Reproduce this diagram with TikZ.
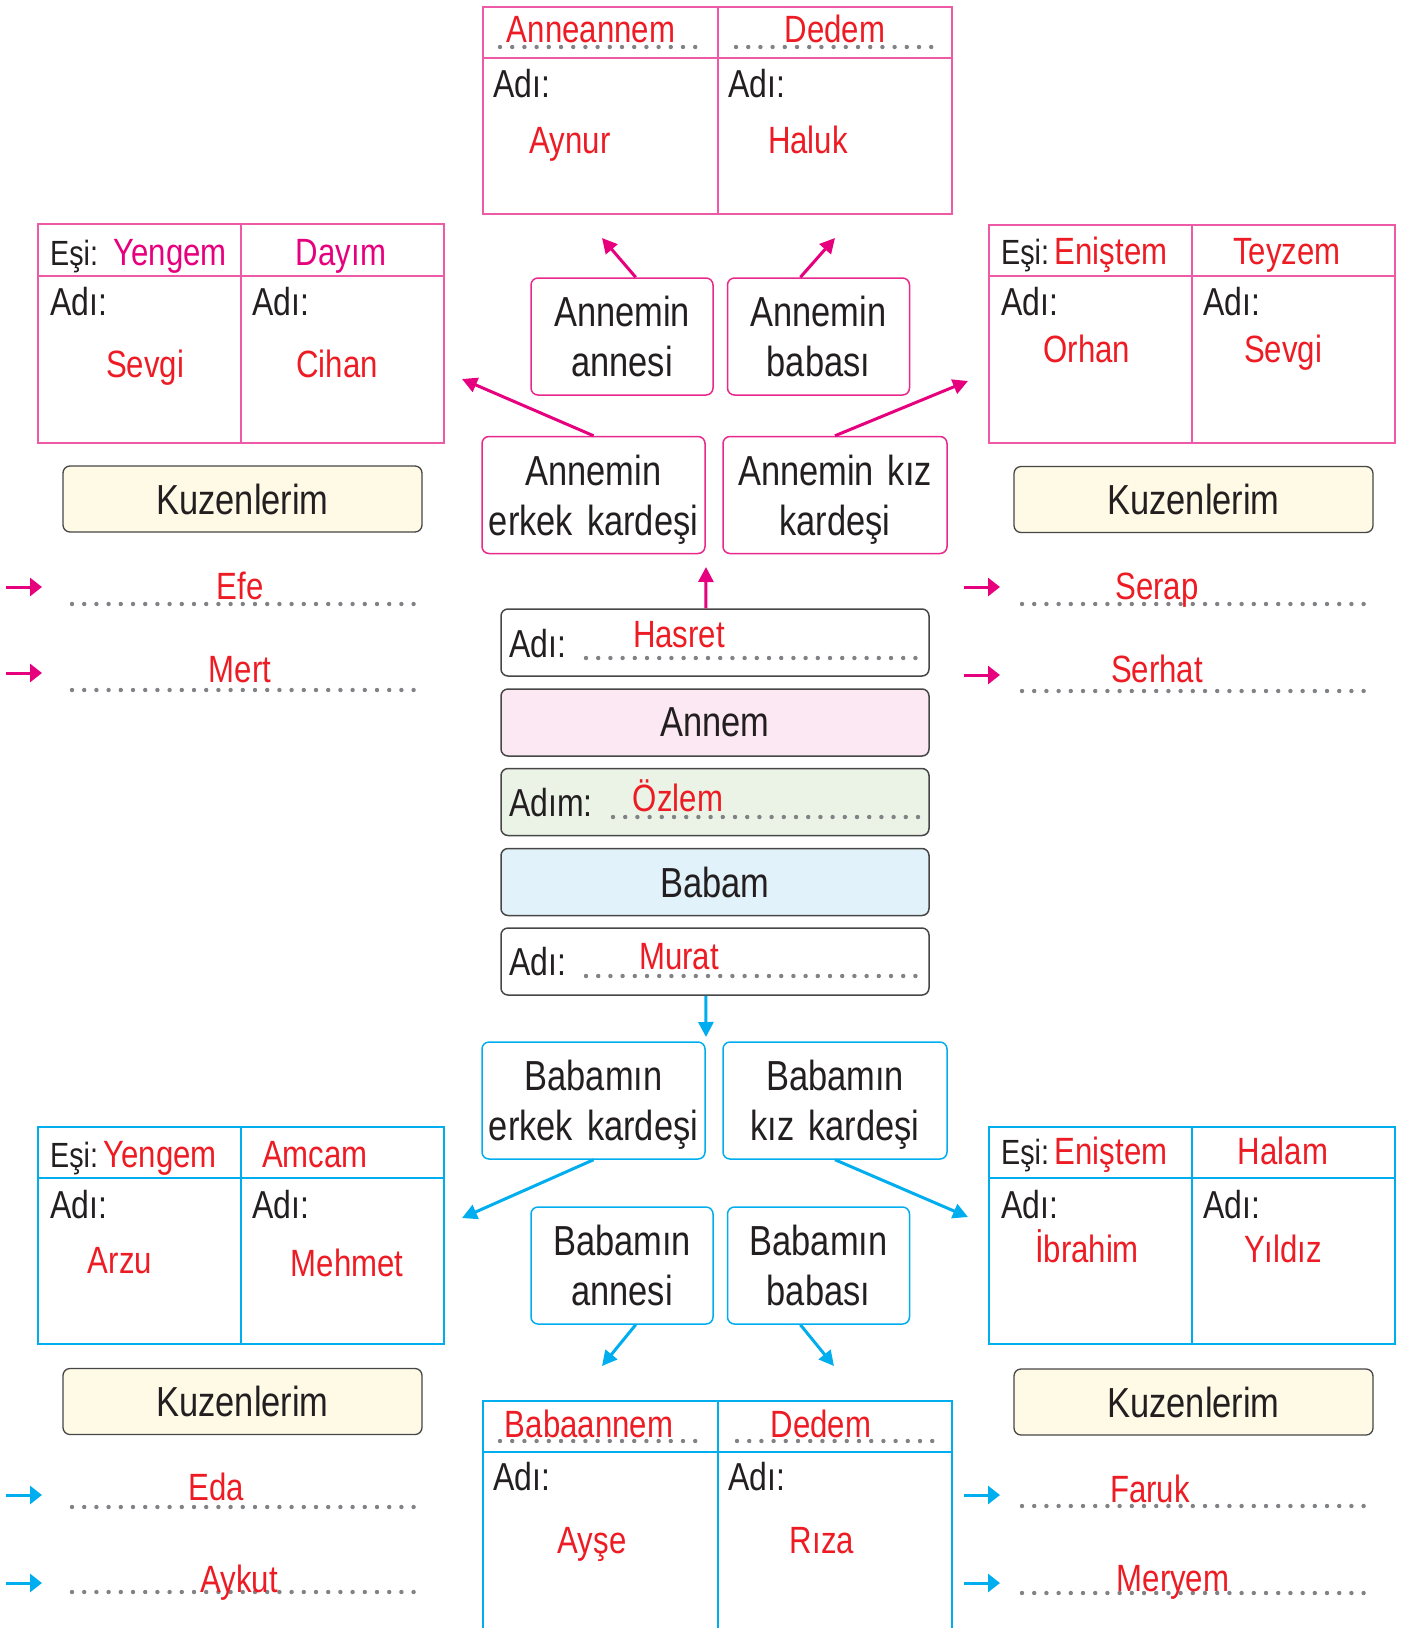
\documentclass[tikz,border=0pt]{standalone}
\usepackage{fontspec}
\setmainfont{Liberation Sans}[FakeStretch=0.82]
\usetikzlibrary{arrows.meta,positioning,calc}
\definecolor{ink}{RGB}{35,31,32}
\definecolor{namered}{RGB}{237,28,36}
\definecolor{kinpink}{RGB}{230,0,126}
\definecolor{boxpink}{RGB}{232,40,140}
\definecolor{tablepink}{RGB}{238,90,165}
\definecolor{kinblue}{RGB}{0,174,239}
\definecolor{dotgray}{RGB}{128,130,133}
\definecolor{boxgray}{RGB}{70,70,70}
\definecolor{kuzfill}{RGB}{255,250,230}
\definecolor{annemfill}{RGB}{252,232,242}
\definecolor{adimfill}{RGB}{234,243,230}
\definecolor{babamfill}{RGB}{225,242,250}
\newcommand\boxfont{\fontsize{42}{50}\selectfont}
\newcommand\cellfont{\fontsize{39}{46}\selectfont}
\newcommand\esifont{\fontsize{35}{42}\selectfont}
\newcommand\namefont{\fontsize{38}{46}\selectfont}

\begin{document}
\begin{tikzpicture}[x=1pt, y=-1pt,
  famlink/.style={line width=3pt, -{Triangle[length=15pt,width=15pt]}},
  cuearrow/.style={line width=3pt, -{Triangle[length=12pt,width=18pt]}},
  relbox/.style={draw, rounded corners=7pt, line width=1.5pt, fill=white, align=center,
    inner sep=0pt, font=\boxfont, text=ink, minimum height=117pt},
  stackbox/.style={draw=boxgray, rounded corners=7pt, line width=1.5pt, minimum width=428pt,
    minimum height=67pt, inner sep=0pt, font=\boxfont, text=ink},
  cousinbox/.style={draw=boxgray, fill=kuzfill, rounded corners=7pt, line width=1.3pt,
    minimum width=359pt, minimum height=66pt, inner sep=0pt, font=\boxfont, text=ink},
  cell/.style={anchor=base west, inner sep=0pt, font=\cellfont, text=ink},
  esi/.style={anchor=base west, inner sep=0pt, font=\esifont, text=ink},
  redname/.style={anchor=base, inner sep=0pt, font=\namefont, text=namered},
  dotline/.style={draw=dotgray, line width=4.4pt, line cap=round, dash pattern=on 0pt off 12.2pt},
  tablerule/.style={line width=1.5pt}]
\useasboundingbox (0,0) rectangle (1408,1628);

% --- Mother's side: grandparents table ---
\draw[tablerule, draw=tablepink] (483,7) rectangle (952,214) (483,58) -- (952,58) (718,7) -- (718,214);
\draw[dotline] (500,47) -- ++(195.5,0);
\draw[dotline] (736,47) -- ++(195.5,0);
\node[redname] (anneanne) at (591,42) {Anneannem};
\node[redname] (dedeAnne) at (835,42) {Dedem};
\node[cell] (anneanneAdi) at (493,97) {Adı:};
\node[cell] (dedeAnneAdi) at (728,97) {Adı:};
\node[redname] (aynur) at (570,153) {Aynur};
\node[redname] (haluk) at (808,153) {Haluk};

% --- Dayı table ---
\draw[tablerule, draw=tablepink] (38,224) rectangle (444,443) (38,276) -- (444,276) (241,224) -- (241,443);
\node[esi] (dayiEsi) at (50,265) {Eşi:};
\node[redname, text=kinpink] (yengemA) at (170,265) {Yengem};
\node[redname, text=kinpink] (dayim) at (341,265) {Dayım};
\node[cell] (yengemAAdi) at (50,315) {Adı:};
\node[cell] (dayimAdi) at (252,315) {Adı:};
\node[redname] (sevgiA) at (145,377) {Sevgi};
\node[redname] (cihan) at (337,377) {Cihan};

% --- Teyze table ---
\draw[tablerule, draw=tablepink] (989,225) rectangle (1395,443) (989,276) -- (1395,276) (1192,225) -- (1192,443);
\node[esi] (teyzeEsi) at (1001,264) {Eşi:};
\node[redname] (enistemA) at (1111,264) {Eniştem};
\node[redname] (teyzem) at (1287,264) {Teyzem};
\node[cell] (enistemAAdi) at (1001,315) {Adı:};
\node[cell] (teyzemAdi) at (1203,315) {Adı:};
\node[redname] (orhan) at (1087,362) {Orhan};
\node[redname] (sevgiB) at (1283,362) {Sevgi};

% --- Mother's relatives ---
\node[relbox, draw=boxpink, minimum width=182pt] (annAnne) at (622,336.5) {Annemin\\annesi};
\node[relbox, draw=boxpink, minimum width=182pt] (annBaba) at (818.5,336.5) {Annemin\\babası};
\node[relbox, draw=boxpink, minimum width=223pt] (annErkek) at (593.5,495) {Annemin\\erkek\hspace{14pt}\smash{kardeşi}};
\node[relbox, draw=boxpink, minimum width=224pt] (annKiz) at (835,495) {Annemin\hspace{14pt}kız\\\smash{kardeşi}};

\coordinate (annAnneTip) at (602,238);
\coordinate (annBabaTip) at (835,238);
\coordinate (dayiTip) at (462,379);
\coordinate (teyzeTip) at (968,381);
\draw[famlink, kinpink] (annAnne.77) -- (annAnneTip);
\draw[famlink, kinpink] (annBaba.107) -- (annBabaTip);
\draw[famlink, kinpink] (annErkek.north) -- (dayiTip);
\draw[famlink, kinpink] (annKiz.north) -- (teyzeTip);

% --- Cousins (top) ---
\node[cousinbox] (kuzenDayi) at (242.5,499) {Kuzenlerim};
\node[cousinbox] (kuzenTeyze) at (1193.5,499.5) {Kuzenlerim};
\foreach \x/\y in {72/604, 72/690, 1022/604, 1022/691, 72/1507, 72/1592, 1022/1506, 1022/1593}
  \draw[dotline] (\x,\y) -- ++(342,0);
\foreach \x/\y in {6/587, 6/673, 964/587, 964/675}
  \draw[cuearrow, kinpink] (\x,\y) -- ++(36,0);
\foreach \x/\y in {6/1495, 6/1583, 964/1495, 964/1583}
  \draw[cuearrow, kinblue] (\x,\y) -- ++(36,0);
\node[redname] (efe) at (240,599) {Efe};
\node[redname] (mert) at (240,682) {Mert};
\node[redname] (serap) at (1157,599) {Serap};
\node[redname] (serhat) at (1157,682) {Serhat};

% --- Center stack ---
\node[stackbox, fill=white] (hasretBox) at (715,642.5) {};
\node[stackbox, fill=annemfill] (annem) at (715,722.5) {Annem};
\node[stackbox, fill=adimfill] (adimBox) at (715,802) {};
\node[stackbox, fill=babamfill] (babam) at (715,882) {Babam};
\node[stackbox, fill=white] (muratBox) at (715,961.5) {};
\draw[dotline] (586,658) -- ++(329.8,0);
\draw[dotline] (613,817) -- ++(305.4,0);
\draw[dotline] (586,976) -- ++(329.8,0);
\node[cell] (hasretAdi) at (509,657) {Adı:};
\node[cell] (adim) at (509,816) {Adım:};
\node[cell] (muratAdi) at (509,975) {Adı:};
\node[redname] (hasret) at (679,647) {Hasret};
\node[redname] (ozlem) at (678,811) {Özlem};
\node[redname] (murat) at (679,969) {Murat};

\coordinate (upTip) at (706,567);
\coordinate (downTip) at (706,1037);
\draw[famlink, kinpink] (hasretBox.105) -- (upTip);
\draw[famlink, kinblue] (muratBox.255) -- (downTip);

% --- Father's relatives ---
\node[relbox, draw=kinblue, minimum width=223pt] (babErkek) at (593.5,1100.5) {Babamın\\erkek\hspace{14pt}\smash{kardeşi}};
\node[relbox, draw=kinblue, minimum width=224pt] (babKiz) at (835,1100.5) {Babamın\\kız\hspace{14pt}\smash{kardeşi}};
\node[relbox, draw=kinblue, minimum width=182pt] (babAnne) at (622,1265.5) {Babamın\\annesi};
\node[relbox, draw=kinblue, minimum width=182pt] (babBaba) at (818.5,1265.5) {Babamın\\babası};

\coordinate (amcaTip) at (462,1218);
\coordinate (halaTip) at (968,1217);
\coordinate (babAnneTip) at (602,1366);
\coordinate (babBabaTip) at (834,1366);
\draw[famlink, kinblue] (babErkek.south) -- (amcaTip);
\draw[famlink, kinblue] (babKiz.south) -- (halaTip);
\draw[famlink, kinblue] (babAnne.283) -- (babAnneTip);
\draw[famlink, kinblue] (babBaba.253) -- (babBabaTip);

% --- Amca table ---
\draw[tablerule, draw=kinblue] (38,1127) rectangle (444,1344) (38,1178) -- (444,1178) (241,1127) -- (241,1344);
\node[esi] (amcaEsi) at (50,1167) {Eşi:};
\node[redname] (yengemB) at (160,1167) {Yengem};
\node[redname] (amcam) at (315,1167) {Amcam};
\node[cell] (yengemBAdi) at (50,1218) {Adı:};
\node[cell] (amcamAdi) at (252,1218) {Adı:};
\node[redname] (arzu) at (120,1273) {Arzu};
\node[redname] (mehmet) at (347,1276) {Mehmet};

% --- Hala table ---
\draw[tablerule, draw=kinblue] (989,1127) rectangle (1395,1344) (989,1178) -- (1395,1178) (1192,1127) -- (1192,1344);
\node[esi] (halaEsi) at (1001,1164) {Eşi:};
\node[redname] (enistemB) at (1111,1164) {Eniştem};
\node[redname] (halam) at (1283,1164) {Halam};
\node[cell] (enistemBAdi) at (1001,1218) {Adı:};
\node[cell] (halamAdi) at (1203,1218) {Adı:};
\node[redname] (ibrahim) at (1087,1262) {İbrahim};
\node[redname] (yildiz) at (1283,1262) {Yıldız};

% --- Cousins (bottom) ---
\node[cousinbox] (kuzenAmca) at (242.5,1401.5) {Kuzenlerim};
\node[cousinbox] (kuzenHala) at (1193.5,1402) {Kuzenlerim};
\node[redname] (eda) at (216,1500) {Eda};
\node[redname] (aykut) at (239,1592) {Aykut};
\node[redname] (faruk) at (1150,1502) {Faruk};
\node[redname] (meryem) at (1173,1591) {Meryem};

% --- Father's side: grandparents table ---
\draw[tablerule, draw=kinblue] (483,1640) -- (483,1401) -- (952,1401) -- (952,1640)
  (483,1452) -- (952,1452) (718,1401) -- (718,1640);
\draw[dotline] (500,1441) -- ++(195.5,0);
\draw[dotline] (737,1441) -- ++(195.5,0);
\node[redname] (babaanne) at (589,1437) {Babaannem};
\node[redname] (dedeBaba) at (821,1437) {Dedem};
\node[cell] (babaanneAdi) at (493,1490) {Adı:};
\node[cell] (dedeBabaAdi) at (728,1490) {Adı:};
\node[redname] (ayse) at (592,1553) {Ayşe};
\node[redname] (riza) at (822,1553) {Rıza};

\end{tikzpicture}
\end{document}
